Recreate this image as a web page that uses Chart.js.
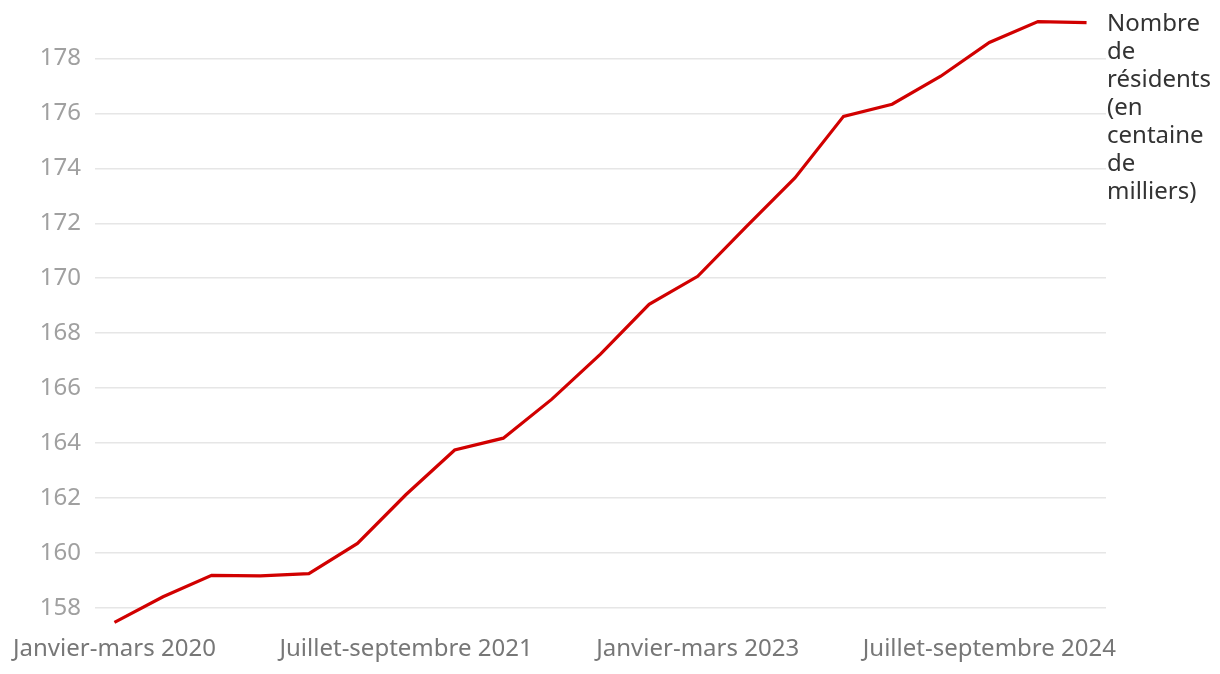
<!DOCTYPE html>
<html>
<head>
<meta charset="utf-8">
<script src="https://cdn.jsdelivr.net/npm/chart.js@4"></script>
<style>
  html, body { margin: 0; padding: 0; background: #fff; }
  #wrap { width: 1220px; height: 674px; }
</style>
</head>
<body>
<div id="wrap"><canvas id="c"></canvas></div>
<script>
// trimestres 2020 T1 -> 2025 T1
const trimestres = ['Janvier-mars', 'Avril-juin', 'Juillet-septembre', 'Octobre-décembre'];
const annees = [2020, 2021, 2022, 2023, 2024, 2025];
const categories = [];
annees.forEach(a => trimestres.forEach(t => categories.push(t + ' ' + a)));
categories.length = 21;

const residents = [157.48, 158.41, 159.19, 159.17, 159.25, 160.35, 162.13, 163.75, 164.18, 165.6,
  167.24, 169.05, 170.07, 171.88, 173.65, 175.89, 176.33, 177.35, 178.58, 179.34, 179.3];
const xTickIdx = [0, 6, 12, 18];
const yTicks = [158, 160, 162, 164, 166, 168, 170, 172, 174, 176, 178];
const serieLabel = ['Nombre', 'de', 'résidents', '(en', 'centaine', 'de', 'milliers)'];

const FONT = '"Noto Sans", sans-serif';

// ─── label a droite de la derniere valeur ─────────────────────────────────
const endLabel = {
  id: 'endLabel',
  afterDatasetsDraw(chart) {
    const { ctx, chartArea } = chart;
    const pts = chart.getDatasetMeta(0).data;
    const last = pts[pts.length - 1];
    ctx.save();
    ctx.font = '24px ' + FONT;
    ctx.fillStyle = '#333333';
    ctx.textAlign = 'left';
    ctx.textBaseline = 'middle';
    serieLabel.forEach((l, i) => ctx.fillText(l, chartArea.right + 1, last.y + 2 + i * 28));
    ctx.restore();
  }
};

new Chart(document.getElementById('c'), {
  type: 'line',
  data: {
    datasets: [{
      label: 'Nombre de résidents (en centaine de milliers)',
      data: residents.map((v, i) => ({ x: i, y: v })),
      borderColor: '#d10000',
      borderWidth: 3.2,
      pointRadius: 0,
      tension: 0,
      fill: false,
      clip: false
    }]
  },
  options: {
    responsive: true,
    maintainAspectRatio: false,
    animation: false,
    layout: { padding: { top: 3, right: 114, bottom: 0, left: 0 } },
    plugins: { legend: { display: false }, tooltip: { enabled: false } },
    scales: {
      x: {
        type: 'linear',
        min: -0.4,
        max: 20.4,
        afterBuildTicks: s => { s.ticks = xTickIdx.map(v => ({ value: v })); },
        afterFit: s => { s.height = 49.5; },
        grid: { display: false, drawTicks: false },
        border: { display: false },
        ticks: {
          padding: 10,
          maxRotation: 0,
          autoSkip: false,
          color: '#777777',
          font: { family: FONT, size: 24 },
          callback: v => categories[v]
        }
      },
      y: {
        min: 157.4,
        max: 179.09,
        afterBuildTicks: s => { s.ticks = yTicks.map(v => ({ value: v })); },
        afterFit: s => { s.width = 95; },
        grid: { color: '#e6e6e6', lineWidth: 1.5, drawTicks: false },
        border: { display: false },
        ticks: {
          padding: 14,
          color: '#a0a0a0',
          font: { family: FONT, size: 24 }
        }
      }
    }
  },
  plugins: [endLabel]
});
</script>
</body>
</html>
